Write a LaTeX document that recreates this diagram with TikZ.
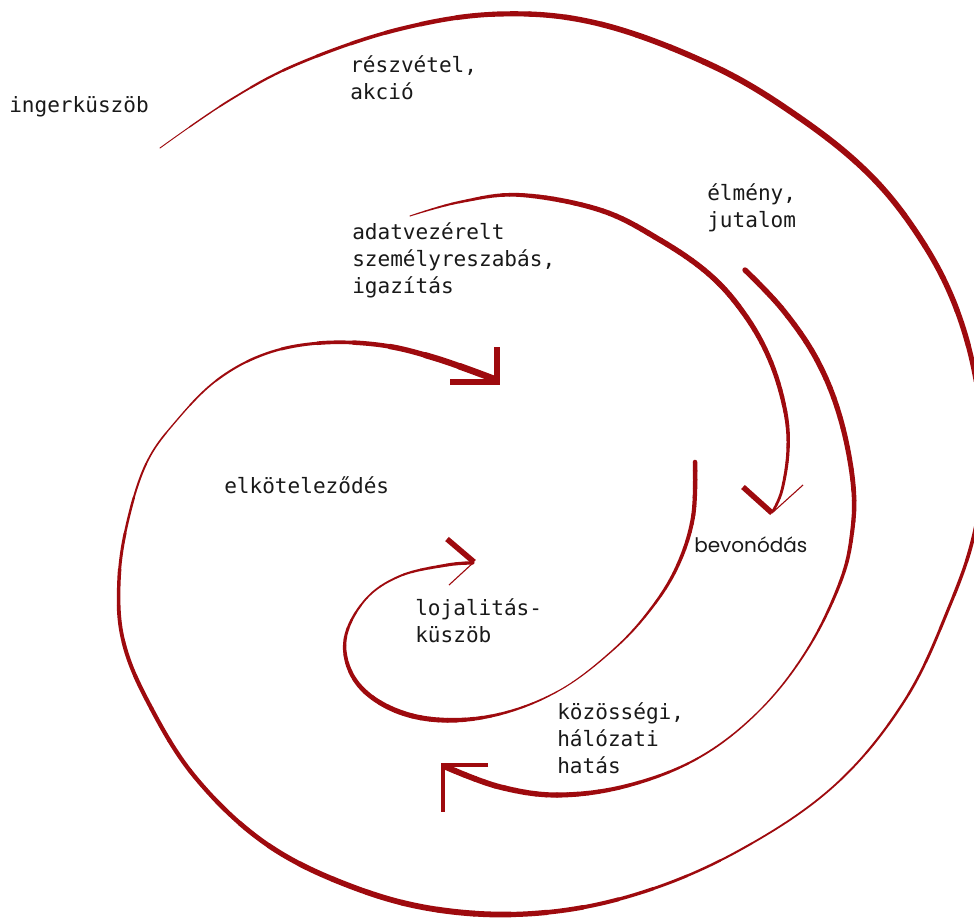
\documentclass[tikz,border=0pt]{standalone}
\usepackage{fontspec}
\newfontfamily\monofont{DejaVu Sans Mono}
\newfontfamily\propfont{Poppins}
\usetikzlibrary{decorations.markings}
\definecolor{spiralred}{RGB}{158,10,14}
\definecolor{txt}{RGB}{25,25,25}
\def\TaperN{80}
\def\TaperScale{1.2}
\def\TaperTension{0.62}
% #1 coordinates, #2 fraction array, #3 width array (px), #4 number of key points
\newcommand\drawtaper[4]{%
  \path[decoration={markings,mark=at position 0.5 with {\pgfmathsetmacro\tmpL{\pgfdecoratedpathlength}\global\let\TaperL\tmpL}},decorate]
    plot[smooth,tension=\TaperTension] coordinates {#1};
  \pgfmathsetmacro\segL{\TaperL/\TaperN}
  \pgfmathtruncatemacro\Nm{\TaperN-1}
  \pgfmathtruncatemacro\Km{#4-1}
  \foreach \i in {0,...,\Nm}{
    \pgfmathsetmacro\tc{(\i+0.5)/\TaperN}
    \xdef\curw{1}
    \foreach \k in {1,...,\Km}{
      \pgfmathsetmacro\ta{#2[\k-1]}
      \pgfmathsetmacro\tb{#2[\k]}
      \pgfmathtruncatemacro\inside{and(\tc>=\ta,\tc<=\tb)}
      \ifnum\inside=1
        \pgfmathsetmacro\wa{#3[\k-1]}
        \pgfmathsetmacro\wb{#3[\k]}
        \pgfmathsetmacro\ww{\TaperScale*(\wa+(\wb-\wa)*(\tc-\ta)/(\tb-\ta))}
        \xdef\curw{\ww}
      \fi
    }
    \pgfmathsetmacro\ph{\segL+5000-\i*\segL}
    \draw[stroke, line width=\curw*0.75pt, dash pattern=on \segL pt off 5000pt, dash phase=\ph pt]
      plot[smooth,tension=\TaperTension] coordinates {#1};
  }%
}
\begin{document}
\begin{tikzpicture}[x=0.75pt,y=-0.75pt,
  stroke/.style={draw=spiralred,line cap=round,line join=round},
  arm/.style={draw=spiralred,line cap=butt,line join=miter},
  lbl/.style={font=\monofont\fontsize{15.8}{19.9}\selectfont,text=txt,inner sep=0pt,align=left,anchor=base west},
  plbl/.style={font=\propfont\fontsize{15}{18}\selectfont,text=txt,inner sep=0pt,anchor=base west}]
\useasboundingbox (0,0) rectangle (974,917);
\fill[white] (0,0) rectangle (974,917);

% outer spiral
\drawtaper{(160,148) (230,100) (300,63) (400,29) (500,14) (600,24) (713,66) (800,118) (870,175) (920,238) (955,305) (976,380) (983,455) (975,530) (950,605) (905,700) (835,785) (740,850) (640,893) (540,913) (440,910) (350,886) (265,843) (195,777) (148,702) (123,640) (119,580) (128,520) (147,462) (177,420) (217,380) (265,354) (320,343) (380,345) (435,358) (494,379)}
  {{0,0.056,0.121,0.203,0.258,0.327,0.374,0.427,0.465,0.501,0.536,0.574,0.609,0.636,0.696,0.738,0.779,0.815,0.857,0.881,0.92,0.943,0.978,1}}
  {{0.6,2.2,4.2,5,5,4.5,3.6,2.6,2,1.5,1.5,2.5,4,5,4.5,3.6,3.5,3,1.6,1.1,2,3,5,5.8}}{24}
\coordinate (a1) at (497,382);
\draw[arm,line width=5.2*0.75pt] (450,382) -- (a1) -- (497,347);

% stroke 2: adatvezérelt -> bevonódás
\drawtaper{(410,216) (460,202) (520,195) (600,210) (660,240) (710,275) (745,315) (770,360) (785,410) (788,450) (782,490) (773,511)}
  {{0,0.124,0.239,0.42,0.61,0.80,0.89,1}}
  {{0.8,2.5,3.8,4.5,4.5,3.6,2.7,2.2}}{8}
\coordinate (a2) at (772,513);
\draw[arm,line width=5.5*0.75pt] (743,487) -- (a2);
\draw[arm,line width=1.1*0.75pt] (a2) -- (803,485);

% stroke 3: élmény -> közösségi
\drawtaper{(745,270) (783,310) (817,360) (840,417) (853,483) (852,533) (840,583) (807,650) (760,710) (700,757) (630,785) (560,795) (500,787) (446,767)}
  {{0,0.137,0.29,0.41,0.5,0.59,0.68,0.77,0.85,1}}
  {{4.5,4.5,4,2.7,1.6,1.1,1.5,3,4.2,5}}{10}
\coordinate (a3) at (443,765);
\draw[arm,line width=4.6*0.75pt] (488,765) -- (a3) -- (443,812);

% stroke 4: inner loop
\drawtaper{(695,462) (693,517) (677,567) (650,610) (613,650) (560,690) (500,714) (440,720) (390,708) (355,680) (345,640) (365,600) (400,576) (447,565) (473,563)}
  {{0,0.078,0.152,0.224,0.30,0.39,0.486,0.56,0.635,0.71,0.763,0.836,0.89,0.963,1}}
  {{3.8,3.4,2.8,2,1.2,0.9,2.2,4,4.3,3.6,2.8,1.4,1.6,2.5,2.8}}{15}
\coordinate (a4) at (474,562);
\draw[arm,line width=5.5*0.75pt] (447,539) -- (a4);
\draw[arm,line width=1.1*0.75pt] (a4) -- (449,585);

% labels (base anchor = baseline of the last line)
\node[lbl] (ing) at (9,113) {ingerküszöb};
\node[lbl] (resz) at (350,99) {részvétel,\\akció};
\node[lbl] (elm) at (707,227) {élmény,\\jutalom};
\node[lbl] (adat) at (352,293) {adatvezérelt\\személyreszabás,\\igazítás};
\node[lbl] (elk) at (224,493) {elköteleződés};
\node[plbl] (bev) at (694,552) {bevonódás};
\node[lbl] (loj) at (415,642) {lojalitás-\\küszöb};
\node[lbl] (koz) at (557,773) {közösségi,\\hálózati\\hatás};
\end{tikzpicture}
\end{document}
